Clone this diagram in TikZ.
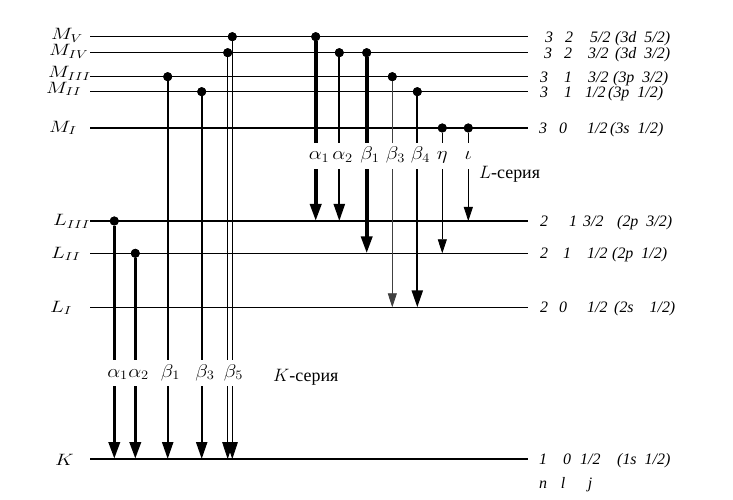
\RequirePackage{fix-cm}
\documentclass[tikz,border=0pt]{standalone}
\usepackage{graphicx}
\usepackage{fontspec}
\setmainfont{Liberation Serif}
\usetikzlibrary{arrows.meta}
\newcommand\wlbl[1]{\scalebox{1.25}[1]{$#1$}}
\newcommand\glb[1]{\scalebox{1.12}[1]{$#1$}}
\begin{document}
\begin{tikzpicture}[x=1bp,y=-1bp,
  lvl/.style={line width=1.4bp},
  dotnode/.style={circle,fill=black,inner sep=0pt,minimum size=9bp},
  thk/.style={line width=3.6bp},
  med/.style={line width=2.3bp},
  thn/.style={line width=0.8bp},
  tip/.style={-{Triangle[length=17bp,width=11bp]}},
  tipsm/.style={-{Triangle[length=14bp,width=9bp]}},
  glbl/.style={inner sep=0pt,minimum height=26bp,text height=12bp,text depth=4bp,font=\fontsize{18.5}{20}\selectfont},
  lvlbl/.style={inner sep=0pt,anchor=base west,font=\fontsize{16.5}{18}\selectfont},
  rt/.style={inner sep=0pt,anchor=base,font=\fontsize{16}{18}\selectfont\itshape},
  rtw/.style={rt,anchor=base west},
  serlbl/.style={inner sep=0pt,anchor=base west,font=\fontsize{18}{20}\selectfont}]
\useasboundingbox (0,0) rectangle (733,500);

% level coordinates
\foreach \nm/\yy in {MV/36.7,MIV/52.7,MIII/76.7,MII/91.7,MI/128,LIII/221,LII/253.3,LI/307.3,K/459}{
  \coordinate (\nm) at (90,\yy);
  \coordinate (\nm e) at (528,\yy);
  \draw[lvl] (\nm) -- (\nm e);
}

% level names
\node[lvlbl] (nMV) at (51,40) {\wlbl{M_{V}}};
\node[lvlbl] (nMIV) at (49,56) {\wlbl{M_{IV}}};
\node[lvlbl] (nMIII) at (48,78) {\wlbl{M_{III}}};
\node[lvlbl] (nMII) at (46,93.5) {\wlbl{M_{II}}};
\node[lvlbl] (nMI) at (49,132.5) {\wlbl{M_{I}}};
\node[lvlbl] (nLIII) at (53,226) {\wlbl{L_{III}}};
\node[lvlbl] (nLII) at (51,258.5) {\wlbl{L_{II}}};
\node[lvlbl] (nLI) at (50,312) {\wlbl{L_{I}}};
\node[lvlbl] (nK) at (55,465) {\wlbl{K}};

% quantum numbers
\foreach \nm/\yy/\nx/\n/\lx/\l/\jx/\j/\px/\p in {
  a/36.7/549/3/569/2/590/5\slash2/615/(3d\enspace5\slash2),
  b/52.7/548/3/568/2/588/3\slash2/615/(3d\enspace3\slash2),
  c/76.7/544/3/568/1/588/3\slash2/613/(3p\enspace3\slash2),
  d/91.7/544/3/568/1/585/1\slash2/608/(3p\enspace1\slash2),
  e/128/543/3/563/0/587/1\slash2/610/(3s\enspace1\slash2),
  f/221/544/2/573/1/583/3\slash2/617/(2p\enspace3\slash2),
  g/253.3/544/2/567/1/587/1\slash2/612/(2p\enspace1\slash2),
  h/307.3/544/2/563/0/587/1\slash2/614/(2s\enspace\enspace1\slash2),
  i/459/543/1/567/0/580/1\slash2/617/(1s\enspace1\slash2)}{
  \node[rt] (q\nm n) at (\nx,\yy+5.5) {\n};
  \node[rt] (q\nm l) at (\lx,\yy+5.5) {\l};
  \node[rtw] (q\nm j) at (\jx,\yy+5.5) {\j};
  \node[rtw] (q\nm p) at (\px,\yy+5.5) {\p};
}
\node[rt] (qn) at (543,488) {n};
\node[rt] (ql) at (563,488) {l};
\node[rt] (qj) at (590,488) {j};

% series names
\node[serlbl] (Lser) at (479,179) {$L$-серия};
\node[serlbl] (Kser) at (273,381) {$K$-серия};

% K series
\node[dotnode] (kA1d) at (114.3,221) {};
\node[dotnode] (kA2d) at (135.3,253.3) {};
\node[dotnode] (kB1d) at (167.7,76.7) {};
\node[dotnode] (kB3d) at (201.7,91.7) {};
\node[dotnode] (kB5ad) at (227.7,52.7) {};
\node[dotnode] (kB5bd) at (232.3,36.7) {};

\node[glbl] (kA1) at (117.5,373) {\glb{\alpha_1}};
\node[glbl] (kA2) at (138.5,373) {\glb{\alpha_2}};
\node[glbl] (kB1) at (170.5,373) {\glb{\beta_1}};
\node[glbl] (kB3) at (205,373) {\glb{\beta_3}};
\node[glbl] (kB5) at (233.5,373) {\glb{\beta_5}};

\draw[thk] (kA1d) -- (kA1d |- kA1.north);
\draw[thk,tip] (kA1d |- kA1.south) -- (kA1d |- K);
\draw[thk] (kA2d) -- (kA2d |- kA2.north);
\draw[thk,tip] (kA2d |- kA2.south) -- (kA2d |- K);
\draw[med] (kB1d) -- (kB1d |- kB1.north);
\draw[med,tip] (kB1d |- kB1.south) -- (kB1d |- K);
\draw[med] (kB3d) -- (kB3d |- kB3.north);
\draw[med,tip] (kB3d |- kB3.south) -- (kB3d |- K);
\draw[thn] (kB5ad) -- (kB5ad |- kB5.north);
\draw[thn,tip] (kB5ad |- kB5.south) -- (kB5ad |- K);
\draw[thn] (kB5bd) -- (kB5bd |- kB5.north);
\draw[thn,tip] (kB5bd |- kB5.south) -- (kB5bd |- K);

% L series
\node[dotnode] (lA1d) at (315.7,36.7) {};
\node[dotnode] (lA2d) at (339.3,52.7) {};
\node[dotnode] (lB1d) at (366.7,52.7) {};
\node[dotnode] (lB3d) at (392.3,76.7) {};
\node[dotnode] (lB4d) at (417.3,91.7) {};
\node[dotnode] (lEd) at (442.3,128) {};
\node[dotnode] (lId) at (468.3,128) {};

\node[glbl] (lA1) at (319,156) {\glb{\alpha_1}};
\node[glbl] (lA2) at (342.5,156) {\glb{\alpha_2}};
\node[glbl] (lB1) at (370,156) {\glb{\beta_1}};
\node[glbl] (lB3) at (395.5,156) {\glb{\beta_3}};
\node[glbl] (lB4) at (420.5,156) {\glb{\beta_4}};
\node[glbl] (lE) at (442.3,156) {\glb{\eta}};
\node[glbl] (lI) at (468.3,156) {\glb{\iota}};

\draw[thk] (lA1d) -- (lA1d |- lA1.north);
\draw[thk,tip] (lA1d |- lA1.south) -- (lA1d |- LIII);
\draw[med] (lA2d) -- (lA2d |- lA2.north);
\draw[med,tip] (lA2d |- lA2.south) -- (lA2d |- LIII);
\draw[thk] (lB1d) -- (lB1d |- lB1.north);
\draw[thk,tip] (lB1d |- lB1.south) -- (lB1d |- LII);
\draw[thn,draw=black!75] (lB3d) -- (lB3d |- lB3.north);
\draw[thn,draw=black!75,tipsm] (lB3d |- lB3.south) -- (lB3d |- LI);
\draw[med] (lB4d) -- (lB4d |- lB4.north);
\draw[med,tip] (lB4d |- lB4.south) -- (lB4d |- LI);
\draw[thn] (lEd) -- (lEd |- lE.north);
\draw[thn,tipsm] (lEd |- lE.south) -- (lEd |- LII);
\draw[thn] (lId) -- (lId |- lI.north);
\draw[thn,tipsm] (lId |- lI.south) -- (lId |- LIII);

% redraw dots on top
\foreach \d in {kA1d,kA2d,kB1d,kB3d,kB5ad,kB5bd,lA1d,lA2d,lB1d,lB3d,lB4d,lEd,lId}{
  \fill (\d) circle (4.5bp);
}
\end{tikzpicture}
\end{document}
